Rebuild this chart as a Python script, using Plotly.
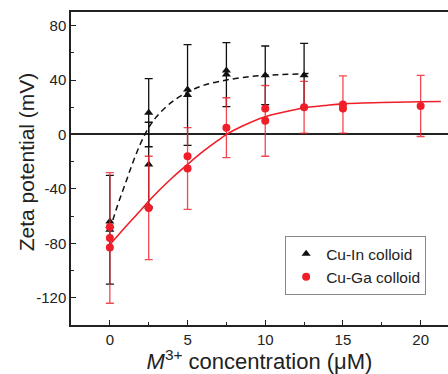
import plotly.graph_objects as go

# ---- data ----
# Cu-In colloid (black triangles)
in_x_err = [0, 2.5, 2.5, 5, 7.5, 10, 12.5]
in_y_err = [-70, 16, -22, 29, 44, 43.5, 43.5]
in_e_err = [40, 25, 31, 37, 23.5, 21.5, 23.5]
in_x_extra = [0, 0, 2.5, 5, 7.5]
in_y_extra = [-64, -67, -53, 33, 47]

# Cu-Ga colloid (red circles)
ga_x_err = [0, 2.5, 5, 7.5, 10, 12.5, 15, 20]
ga_y_err = [-76, -54, -25, 5, 10, 20, 22, 21]
ga_e_err = [48, 38, 30, 22, 26, 19, 21, 22.5]
ga_x_extra = [0, 0, 5, 10, 15]
ga_y_extra = [-68, -83, -16, 19, 19]

# fitted curves
in_fit_x = [0, 0.5, 1, 1.5, 2, 2.5, 3, 4, 5, 6, 7.5, 9, 10, 11, 12.8]
in_fit_y = [-70, -52, -36, -20, -6, 5, 13, 24, 31, 36, 40, 42.5, 43.5, 44, 44.8]
ga_fit_x = [0, 1, 2, 2.5, 3, 4, 5, 6, 7, 7.5, 8.5, 10, 11, 12.5, 14, 15, 17.5, 20, 21.3]
ga_fit_y = [-81, -68, -55.5, -49, -43, -32, -22, -12.5, -4, 0, 6, 13, 16, 19.5, 21.5, 22.5, 23.5, 24, 24.2]

x_ticks = [0, 5, 10, 15, 20]
x_labels = ["0", "5", "10", "15", "20"]
y_ticks = [-120, -80, -40, 0, 40, 80]
y_labels = ["-120", "-80", "-40", "0", "40", "80"]

BLACK = "#111111"
RED = "#f01e28"
RED_ERR = "rgba(240,40,50,0.85)"
FONT = "Liberation Sans, Arial, sans-serif"

fig = go.Figure()

fig.add_trace(go.Scatter(x=in_fit_x, y=in_fit_y, mode="lines", line_shape="spline",
                         line=dict(color=BLACK, width=1.5, dash="6px,4px"), showlegend=False,
                         hoverinfo="skip"))
fig.add_trace(go.Scatter(x=ga_fit_x, y=ga_fit_y, mode="lines", line_shape="spline",
                         line=dict(color=RED, width=1.6), showlegend=False, hoverinfo="skip"))

fig.add_trace(go.Scatter(x=in_x_err, y=in_y_err, mode="markers", name="Cu-In colloid",
                         marker=dict(symbol="triangle-up", size=8, color=BLACK),
                         error_y=dict(type="data", array=in_e_err, visible=True,
                                      color=BLACK, thickness=1.3, width=4)))
fig.add_trace(go.Scatter(x=in_x_extra, y=in_y_extra, mode="markers", showlegend=False,
                         marker=dict(symbol="triangle-up", size=8, color=BLACK)))

fig.add_trace(go.Scatter(x=ga_x_err, y=ga_y_err, mode="markers", name="Cu-Ga colloid",
                         marker=dict(symbol="circle", size=8, color=RED),
                         error_y=dict(type="data", array=ga_e_err, visible=True,
                                      color=RED_ERR, thickness=1.3, width=4)))
fig.add_trace(go.Scatter(x=ga_x_extra, y=ga_y_extra, mode="markers", showlegend=False,
                         marker=dict(symbol="circle", size=8, color=RED)))

fig.update_layout(
    width=448, height=374,
    margin=dict(l=71, r=0, t=12, b=49),
    paper_bgcolor="white", plot_bgcolor="white",
    font=dict(family=FONT, size=15, color="#222"),
    showlegend=True,
    legend=dict(x=0.568, y=0.284, xanchor="left", yanchor="top",
                bordercolor="#888", borderwidth=1, bgcolor="white",
                font=dict(size=15.5), tracegroupgap=0),
    xaxis=dict(range=[-2.5, 21.76], tickvals=x_ticks, ticktext=x_labels,
               ticks="inside", ticklen=5, tickwidth=1.2, tickcolor="#222",
               minor=dict(ticks="inside", ticklen=3, dtick=2.5, tick0=0, tickcolor="#222"),
               showline=True, linecolor="#222", linewidth=1.5, mirror=True,
               showgrid=False, zeroline=False,
               title=dict(text="<i>M</i><sup>3+</sup> concentration (μM)",
                          font=dict(size=22), standoff=4)),
    yaxis=dict(range=[-140, 90], tickvals=y_ticks, ticktext=y_labels,
               ticks="inside", ticklen=5, tickwidth=1.2, tickcolor="#222",
               minor=dict(ticks="inside", ticklen=3, dtick=20, tick0=0, tickcolor="#222"),
               showline=True, linecolor="#222", linewidth=1.5,
               showgrid=False, zeroline=True, zerolinecolor="#222", zerolinewidth=1.5),
    annotations=[dict(text="Zeta potential (mV)", textangle=-90, showarrow=False,
                      xref="paper", yref="paper", x=(26 - 71) / 377, y=0.52,
                      xanchor="center", yanchor="middle", font=dict(size=21))],
)

fig.write_html("out.html")
